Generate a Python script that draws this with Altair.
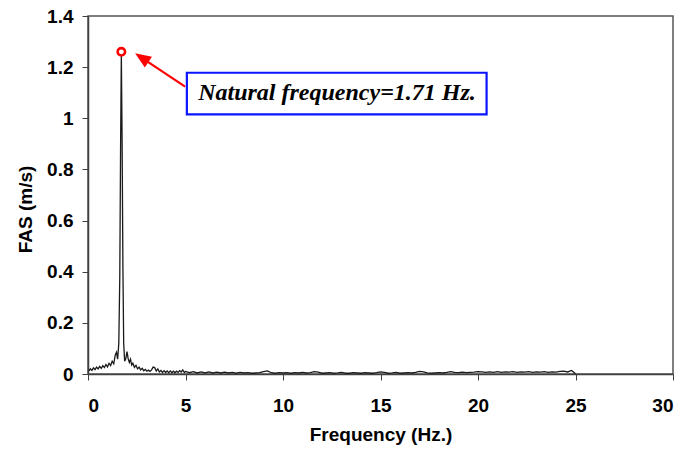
import altair as alt
import pandas as pd

# ---- spectrum ----
freq = [0.05, 0.12, 0.20, 0.28, 0.36, 0.44, 0.52, 0.60, 0.68, 0.76, 0.84, 0.92, 1.00, 1.08,
        1.16, 1.24, 1.32, 1.40, 1.46, 1.52,
        1.58, 1.63, 1.67, 1.71, 1.75, 1.79, 1.83, 1.88, 1.94, 2.00, 2.06, 2.12, 2.18, 2.24,
        2.30, 2.38, 2.46, 2.54, 2.62, 2.70, 2.78, 2.86, 2.94, 3.02, 3.10, 3.18, 3.26, 3.34,
        3.42, 3.50, 3.58, 3.66, 3.74, 3.82, 3.90, 3.98, 4.06, 4.14, 4.22, 4.30, 4.38, 4.46,
        4.54, 4.62, 4.70, 4.78, 4.86, 4.94,
        5.0, 5.2, 5.4, 5.6, 5.8, 6.0, 6.2, 6.4, 6.6, 6.8, 7.0, 7.2, 7.4, 7.6, 7.8, 8.0,
        8.2, 8.4, 8.6, 8.8, 9.0, 9.2, 9.4, 9.6, 9.8, 10.0, 10.2, 10.4, 10.6, 10.8, 11.0,
        11.2, 11.4, 11.6, 11.8, 12.0, 12.2, 12.4, 12.6, 12.8, 13.0, 13.2, 13.4, 13.6, 13.8,
        14.0, 14.2, 14.4, 14.6, 14.8, 15.0, 15.2, 15.4, 15.6, 15.8, 16.0, 16.2, 16.4, 16.6,
        16.8, 17.0, 17.2, 17.4, 17.6, 17.8, 18.0, 18.2, 18.4, 18.6, 18.8, 19.0, 19.2, 19.4,
        19.6, 19.8, 20.0, 20.2, 20.4, 20.6, 20.8, 21.0, 21.2, 21.4, 21.6, 21.8, 22.0, 22.2,
        22.4, 22.6, 22.8, 23.0, 23.2, 23.4, 23.6, 23.8, 24.0, 24.2, 24.4, 24.6, 24.8, 25.0]

fas = [0.012, 0.020, 0.014, 0.024, 0.017, 0.027, 0.020, 0.030, 0.022, 0.033, 0.025, 0.037, 0.028, 0.042,
       0.033, 0.050, 0.040, 0.075, 0.085, 0.058,
       0.120, 0.380, 0.880, 1.250, 0.900, 0.420, 0.120, 0.050, 0.060, 0.088, 0.060, 0.045, 0.058, 0.035,
       0.042, 0.026, 0.034, 0.020, 0.027, 0.016, 0.022, 0.013, 0.018, 0.011, 0.015, 0.010, 0.016, 0.027,
       0.025, 0.012, 0.020, 0.008, 0.014, 0.006, 0.013, 0.006, 0.012, 0.005, 0.012, 0.005, 0.011, 0.005,
       0.011, 0.006, 0.013, 0.008, 0.016, 0.006,
       0.010, 0.005, 0.009, 0.004, 0.008, 0.004, 0.008, 0.004, 0.007, 0.004, 0.007, 0.004, 0.006, 0.003, 0.006, 0.004,
       0.005, 0.003, 0.004, 0.005, 0.009, 0.012, 0.005, 0.003, 0.005, 0.004, 0.005, 0.003, 0.005, 0.004, 0.006,
       0.004, 0.005, 0.009, 0.007, 0.003, 0.004, 0.005, 0.003, 0.004, 0.006, 0.003, 0.003, 0.005, 0.004,
       0.003, 0.005, 0.004, 0.003, 0.005, 0.008, 0.006, 0.003, 0.004, 0.006, 0.003, 0.004, 0.005, 0.004,
       0.006, 0.010, 0.008, 0.004, 0.003, 0.004, 0.005, 0.004, 0.006, 0.009, 0.006, 0.005, 0.007, 0.005,
       0.006, 0.007, 0.009, 0.008, 0.006, 0.008, 0.006, 0.009, 0.006, 0.008, 0.007, 0.009, 0.006, 0.008,
       0.007, 0.009, 0.006, 0.008, 0.007, 0.009, 0.006, 0.008, 0.007, 0.010, 0.011, 0.008, 0.014, 0.001]

# ---- annotation (in data units) ----
peak_f = [1.71]
peak_a = [1.26]
label_text = ["Natural frequency=1.71 Hz."]
label_f = [12.77]
label_a = [1.099]
box_f = [5.07]
box_f2 = [20.44]
box_a = [1.0156]
box_a2 = [1.178]
arrow_f = [4.98]
arrow_a = [1.124]
arrow_f2 = [2.80]
arrow_a2 = [1.234]
head_f = [2.756]
head_a = [1.2368]

x_ticks = [0, 5, 10, 15, 20, 25, 30]
y_ticks = [0, 0.2, 0.4, 0.6, 0.8, 1.0, 1.2, 1.4]

FONT = "Liberation Sans"
AXC = "#404040"

spec = pd.DataFrame({"f": freq, "a": fas})

xscale = alt.Scale(domain=[0, 30], nice=False, zero=False)
yscale = alt.Scale(domain=[0, 1.4], nice=False)

xaxis = alt.Axis(
    values=x_ticks, grid=False, tickSize=6, tickColor=AXC, domainColor=AXC, domainWidth=1.5,
    labelFont=FONT, labelFontSize=19, labelFontWeight="bold", labelColor="black",
    labelPadding=16, title="Frequency (Hz.)", titleFont=FONT, titleFontSize=19,
    titleFontWeight="bold", titleColor="black", titleBaseline="alphabetic", titleY=66)
yaxis = alt.Axis(
    values=y_ticks, format="~g", grid=False, tickSize=6, tickColor=AXC, domainColor=AXC,
    domainWidth=1.5, labelFont=FONT, labelFontSize=19, labelFontWeight="bold",
    labelColor="black", labelPadding=9, title="FAS (m/s)", titleFont=FONT, titleFontSize=19,
    titleFontWeight="bold", titleColor="black", titleX=-63, titleY=193,
    titleBaseline="middle")


def X(field):
    return alt.X(field, scale=xscale, axis=xaxis, title="Frequency (Hz.)")


def Y(field):
    return alt.Y(field, scale=yscale, axis=yaxis, title="FAS (m/s)")


line = alt.Chart(spec).mark_line(color="#1a1a1a", strokeWidth=1.3).encode(
    x=X("f:Q"), y=Y("a:Q"),
)

box_df = pd.DataFrame({"f": box_f, "f2": box_f2, "a": box_a, "a2": box_a2})
box = alt.Chart(box_df).mark_rect(fill="white", stroke="#0a14ff", strokeWidth=2.2).encode(
    x=X("f:Q"), x2="f2:Q", y=Y("a:Q"), y2="a2:Q",
)

lab_df = pd.DataFrame({"f": label_f, "a": label_a, "t": label_text})
label = alt.Chart(lab_df).mark_text(
    font="Liberation Serif", fontSize=24, fontWeight="bold", fontStyle="italic",
    color="black", align="center", baseline="middle"
).encode(x=X("f:Q"), y=Y("a:Q"), text="t:N")

arr_df = pd.DataFrame({"f": arrow_f, "f2": arrow_f2, "a": arrow_a, "a2": arrow_a2})
shaft = alt.Chart(arr_df).mark_rule(color="#ff0000", strokeWidth=2.2).encode(
    x=X("f:Q"), x2="f2:Q", y=Y("a:Q"), y2="a2:Q",
)

head_df = pd.DataFrame({"f": head_f, "a": head_a})
head = alt.Chart(head_df).mark_point(
    shape="M0,-1L-0.8,1L0.8,1Z", filled=True, color="#ff0000", opacity=1,
    size=256, angle=303.8, strokeWidth=0
).encode(x=X("f:Q"), y=Y("a:Q"))

pk_df = pd.DataFrame({"f": peak_f, "a": peak_a})
peak = alt.Chart(pk_df).mark_point(
    shape="circle", filled=False, color="#ff0000", opacity=1, size=55, strokeWidth=2.6
).encode(x=X("f:Q"), y=Y("a:Q"))

chart = alt.layer(line, shaft, head, box, label, peak).properties(
    width=585, height=358,
    padding={"left": 80, "top": 8, "right": 3, "bottom": 71},
    autosize=alt.AutoSizeParams(type="none"),
    background="white",
).configure_view(stroke="#555555", strokeWidth=1.5)

chart.save("out.html", embed_options={"renderer": "svg", "actions": False})
